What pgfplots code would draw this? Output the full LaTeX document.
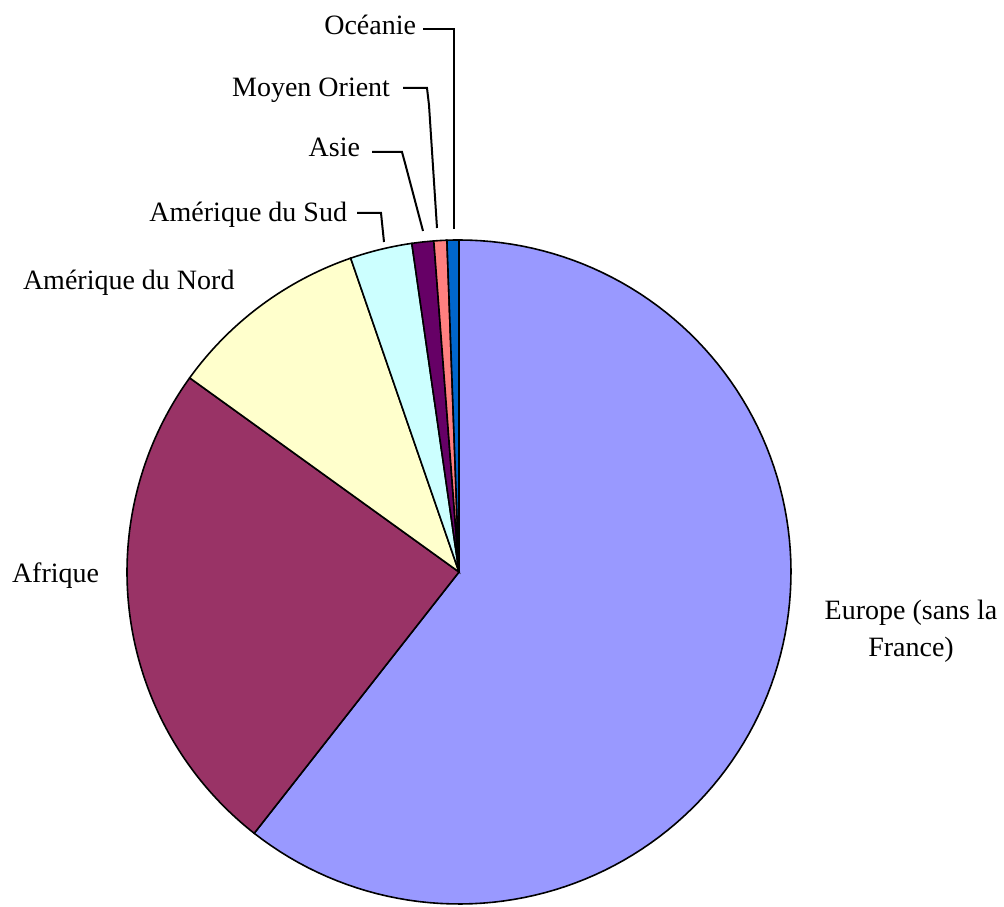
\documentclass[border=0pt]{standalone}
\usepackage{pgfplots}
\pgfplotsset{compat=1.18}
\usepackage{fontspec}
\setmainfont{Liberation Serif}
\definecolor{ceur}{HTML}{9999FF}
\definecolor{cafr}{HTML}{993366}
\definecolor{cnord}{HTML}{FFFFCC}
\definecolor{csud}{HTML}{CCFFFF}
\definecolor{casie}{HTML}{660066}
\definecolor{cmo}{HTML}{FF8080}
\definecolor{cocea}{HTML}{0066CC}
\tikzset{lbl/.style={font=\fontsize{14bp}{18.5bp}\selectfont, inner sep=0pt, outer sep=0pt}}
% slice: start (%), end (%), colour ; pie centre (459,335) px, radius 332 px
\newcommand\slice[3]{%
  \addplot[draw=black, line width=0.8bp, fill=#3, domain=#1:#2, samples=120, variable=\p]
    ({459+332*cos(90-3.6*\p)}, {335+332*sin(90-3.6*\p)}) -- (axis cs:459,335) -- cycle;}
\begin{document}
\begin{tikzpicture}
\begin{axis}[
  width=502bp, height=453.5bp, scale only axis,
  xmin=0, xmax=1004, ymin=0, ymax=907,
  hide axis, clip=false,
]
% shares (percent): Europe 60.58, Afrique 24.36, Am. Nord 9.77, Am. Sud 3.02, Asie 1.06, Moyen Orient 0.63, Oceanie 0.58
\slice{0}{60.58}{ceur}
\slice{60.58}{84.94}{cafr}
\slice{84.94}{94.71}{cnord}
\slice{94.71}{97.73}{csud}
\slice{97.73}{98.79}{casie}
\slice{98.79}{99.42}{cmo}
\slice{99.42}{100}{cocea}
% leader lines
\addplot[black, line width=1bp] coordinates {(423,878) (454,878) (454,678)};
\addplot[black, line width=1bp] coordinates {(403,819) (427,819) (429,802) (437,679)};
\addplot[black, line width=1bp] coordinates {(372,755) (402,755) (405,744) (423,676)};
\addplot[black, line width=1bp] coordinates {(357,694) (381,694) (384,665)};
% labels
\node[lbl, anchor=base east] at (axis cs:416,872) {Océanie};
\node[lbl, anchor=base east] at (axis cs:390,810) {Moyen Orient};
\node[lbl, anchor=base east] at (axis cs:360,750) {Asie};
\node[lbl, anchor=base east] at (axis cs:347,685) {Amérique du Sud};
\node[lbl, anchor=base west] at (axis cs:23,617) {Amérique du Nord};
\node[lbl, anchor=base west] at (axis cs:12,324) {Afrique};
\node[lbl, anchor=base] at (axis cs:911,287) {Europe (sans la};
\node[lbl, anchor=base] at (axis cs:911,250) {France)};
\end{axis}
\path[use as bounding box] (0,0) rectangle (502bp,453.5bp);
\end{tikzpicture}
\end{document}
